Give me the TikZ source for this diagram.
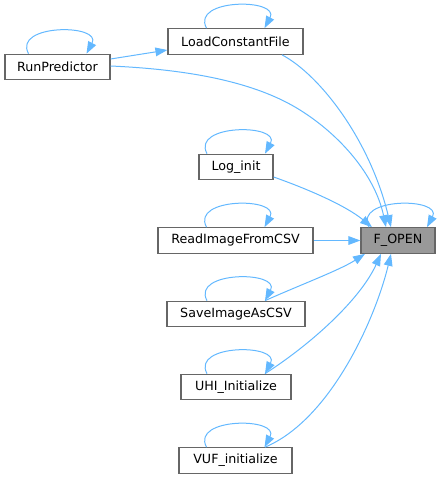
\documentclass[tikz,border=0pt]{standalone}
\usepackage{fontspec}
\setmainfont{DejaVu Sans}
\usetikzlibrary{arrows.meta,calc}
\definecolor{edgec}{HTML}{63B8FF}
\definecolor{boxc}{HTML}{666666}
\definecolor{hilite}{HTML}{999999}
\begin{document}
\begin{tikzpicture}[x=0.75pt,y=-0.75pt,
  fn/.style={draw=boxc,line width=0.9pt,fill=white,inner sep=0pt,minimum height=25.5*0.75pt,font=\fontsize{9.5}{11}\selectfont,text=black},
  edge/.style={draw=edgec,line width=0.75pt,-{Triangle[length=9pt,width=6.5pt]}}]
\useasboundingbox (0,0) rectangle (440,479);
\node[fn,minimum width=105*0.75pt] (rp) at (57.5,67) {RunPredictor};
\node[fn,minimum width=135*0.75pt] (lcf) at (235.5,41.5) {LoadConstantFile};
\node[fn,minimum width=74*0.75pt] (li) at (236,167) {Log\_init};
\node[fn,minimum width=155*0.75pt] (rif) at (235.5,240.5) {ReadImageFromCSV};
\node[fn,minimum width=74*0.75pt,fill=hilite] (fo) at (398,240.5) {F\_OPEN};
\node[fn,minimum width=138*0.75pt] (sia) at (236,314) {SaveImageAsCSV};
\node[fn,minimum width=110*0.75pt] (uhi) at (236,387) {UHI\_Initialize};
\node[fn,minimum width=113*0.75pt] (vuf) at (235.5,460.5) {VUF\_initialize};
% self loops
\foreach \n in {rp,lcf,li,rif,fo,sia,uhi,vuf}
  \draw[edge] ($(\n.north)+(-29,0)$) .. controls +(-16,-30) and +(16,-30) .. ($(\n.north)+(29,0)$);
% calls
\draw[edge] (rp.east |- 0,59) -- (lcf.west |- 0,50);
\draw[edge] (rp.east |- 0,66) .. controls (200,70) and (260,85) .. (300,110)
  .. controls (340,135) and (375,175) .. (fo.north -| 386,0);
\draw[edge] (lcf.south -| 282,0) .. controls (320,75) and (370,140) .. (fo.north -| 391,0);
\draw[edge] (li.east |- 0,177) .. controls (305,188) and (345,205) .. (fo.north -| 372,0);
\draw[edge] (rif.east) -- (fo.west);
\draw[edge] (sia.north -| 265,0) .. controls (300,285) and (340,270) .. (fo.south -| 365,0);
\draw[edge] (uhi.north -| 265,0) .. controls (310,345) and (360,300) .. (fo.south -| 381,0);
\draw[edge] (vuf.north -| 265,0) .. controls (330,420) and (375,320) .. (fo.south -| 391,0);
\end{tikzpicture}
\end{document}
